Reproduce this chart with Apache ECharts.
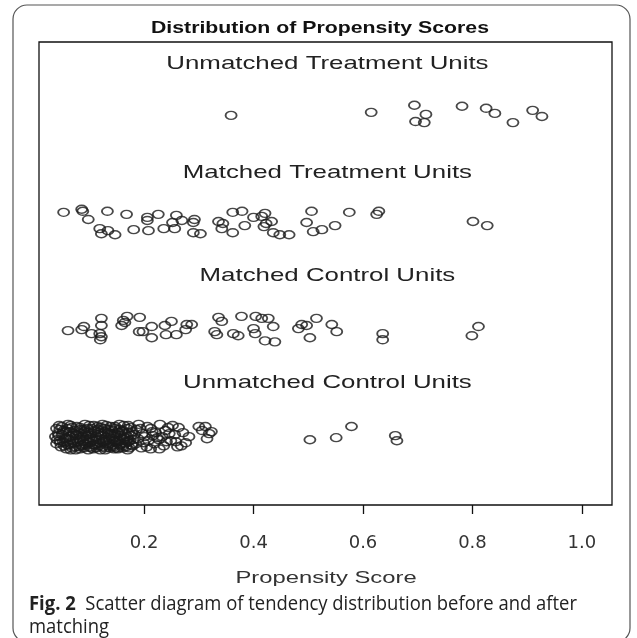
<!DOCTYPE html>
<html><head><meta charset="utf-8">
<script src="https://cdn.jsdelivr.net/npm/echarts@6/dist/echarts.min.js"></script>
<style>html,body{margin:0;padding:0;background:#fff}#c{width:637px;height:638px}</style>
</head><body><div id="c"></div>
<script>
// ---------- data ----------
const titleText = 'Distribution of Propensity Scores';
const axisTitle = 'Propensity Score';
const captionBold = 'Fig. 2';
const captionLine1 = '  Scatter diagram of tendency distribution before and after';
const captionLine2 = 'matching';
const groupLabels = ['Unmatched Treatment Units', 'Matched Treatment Units', 'Matched Control Units', 'Unmatched Control Units'];
const groupLabelLevels = [4.33, 3.26, 2.25, 1.20];
const groupLabelX = 0.535;
const xTicks = [0.2, 0.4, 0.6, 0.8, 1.0];

const unmatchedTreatment = [
  [0.359,3.82],[0.615,3.85],[0.694,3.92],[0.715,3.83],[0.696,3.76],[0.712,3.75],
  [0.781,3.91],[0.825,3.89],[0.841,3.84],[0.874,3.75],[0.910,3.87],[0.927,3.81]
];

const matchedTreatment = [
  [0.053,2.87],[0.086,2.90],[0.088,2.88],[0.098,2.80],[0.133,2.88],[0.168,2.85],
  [0.119,2.71],[0.122,2.66],[0.134,2.69],[0.147,2.65],[0.181,2.70],[0.208,2.69],
  [0.206,2.79],[0.206,2.82],[0.226,2.85],[0.236,2.71],[0.256,2.71],[0.252,2.77],
  [0.259,2.84],[0.269,2.79],[0.292,2.80],[0.290,2.77],[0.290,2.67],[0.303,2.66],
  [0.336,2.78],[0.344,2.76],[0.342,2.71],[0.362,2.67],[0.362,2.87],[0.379,2.88],
  [0.384,2.74],[0.400,2.82],[0.415,2.83],[0.421,2.86],[0.423,2.76],[0.433,2.78],
  [0.419,2.73],[0.436,2.67],[0.448,2.65],[0.465,2.65],[0.506,2.88],[0.497,2.77],
  [0.509,2.68],[0.525,2.70],[0.549,2.74],[0.575,2.87],[0.625,2.85],[0.629,2.88],
  [0.801,2.78],[0.827,2.74]
];

const matchedControl = [
  [0.061,1.71],[0.086,1.72],[0.090,1.75],[0.104,1.68],[0.122,1.83],[0.122,1.76],
  [0.119,1.68],[0.122,1.65],[0.120,1.62],[0.159,1.76],[0.162,1.81],[0.169,1.85],
  [0.165,1.79],[0.192,1.84],[0.191,1.70],[0.198,1.70],[0.214,1.75],[0.214,1.64],
  [0.238,1.76],[0.240,1.67],[0.250,1.80],[0.259,1.67],[0.276,1.72],[0.278,1.77],
  [0.287,1.77],[0.336,1.84],[0.342,1.80],[0.329,1.70],[0.333,1.67],[0.363,1.68],
  [0.372,1.66],[0.378,1.85],[0.404,1.85],[0.415,1.83],[0.427,1.83],[0.400,1.73],
  [0.403,1.68],[0.436,1.75],[0.421,1.61],[0.439,1.60],[0.482,1.73],[0.488,1.77],
  [0.497,1.76],[0.515,1.83],[0.503,1.64],[0.543,1.77],[0.552,1.70],[0.636,1.68],
  [0.636,1.62],[0.811,1.75],[0.799,1.66]
];

const unmatchedControl = [
  [0.045,0.78],[0.061,0.79],[0.077,0.77],[0.092,0.79],[0.108,0.78],[0.124,0.79],[0.139,0.77],
  [0.155,0.79],[0.171,0.78],[0.190,0.79],[0.206,0.77],[0.229,0.79],[0.252,0.78],
  [0.040,0.75],[0.053,0.73],[0.068,0.76],[0.084,0.74],[0.097,0.75],[0.109,0.73],[0.121,0.76],
  [0.134,0.74],[0.147,0.75],[0.161,0.73],[0.176,0.76],[0.186,0.74],[0.212,0.75],[0.239,0.73],[0.263,0.76],
  [0.043,0.70],[0.058,0.72],[0.071,0.70],[0.081,0.71],[0.091,0.72],[0.103,0.70],[0.116,0.71],
  [0.128,0.72],[0.139,0.70],[0.152,0.71],[0.166,0.70],[0.178,0.72],[0.197,0.70],[0.221,0.71],[0.246,0.70],[0.271,0.71],
  [0.038,0.67],[0.050,0.69],[0.064,0.67],[0.076,0.68],[0.088,0.67],[0.099,0.69],[0.112,0.67],
  [0.122,0.68],[0.135,0.69],[0.145,0.67],[0.157,0.68],[0.169,0.67],[0.182,0.69],[0.201,0.67],
  [0.216,0.68],[0.233,0.67],[0.256,0.69],
  [0.046,0.63],[0.057,0.65],[0.070,0.63],[0.083,0.64],[0.095,0.65],[0.106,0.63],[0.118,0.64],
  [0.130,0.63],[0.142,0.65],[0.151,0.63],[0.163,0.64],[0.174,0.63],[0.189,0.65],[0.208,0.63],
  [0.227,0.64],[0.249,0.63],
  [0.040,0.60],[0.055,0.61],[0.066,0.60],[0.079,0.62],[0.092,0.60],[0.101,0.61],[0.114,0.60],
  [0.126,0.62],[0.137,0.60],[0.149,0.61],[0.159,0.60],[0.171,0.62],[0.185,0.60],[0.199,0.61],
  [0.219,0.60],[0.241,0.62],[0.276,0.61],
  [0.048,0.57],[0.062,0.59],[0.074,0.57],[0.087,0.58],[0.100,0.57],[0.110,0.59],[0.124,0.57],
  [0.133,0.58],[0.144,0.57],[0.155,0.59],[0.167,0.57],[0.179,0.58],[0.205,0.57],[0.236,0.58],[0.261,0.57],
  [0.058,0.55],[0.075,0.54],[0.090,0.56],[0.107,0.55],[0.120,0.54],[0.138,0.56],[0.152,0.55],
  [0.170,0.54],[0.195,0.56],[0.228,0.55],
  [0.050,0.77],[0.066,0.78],[0.083,0.76],[0.100,0.78],[0.115,0.77],[0.131,0.78],[0.147,0.77],[0.163,0.78],
  [0.046,0.74],[0.060,0.75],[0.075,0.73],[0.090,0.74],[0.104,0.75],[0.116,0.74],[0.128,0.75],[0.141,0.73],
  [0.155,0.74],[0.169,0.75],
  [0.051,0.71],[0.064,0.72],[0.077,0.69],[0.086,0.70],[0.097,0.71],[0.110,0.72],[0.122,0.70],[0.134,0.71],
  [0.146,0.70],[0.159,0.72],[0.172,0.71],
  [0.044,0.68],[0.057,0.66],[0.070,0.68],[0.082,0.66],[0.094,0.68],[0.105,0.66],[0.117,0.69],[0.129,0.66],
  [0.140,0.68],[0.151,0.69],[0.163,0.66],[0.176,0.68],
  [0.041,0.64],[0.052,0.62],[0.064,0.64],[0.076,0.65],[0.089,0.62],[0.100,0.64],[0.112,0.65],[0.124,0.62],
  [0.136,0.64],[0.147,0.63],[0.157,0.65],[0.168,0.62],[0.180,0.64],
  [0.047,0.61],[0.060,0.59],[0.072,0.61],[0.085,0.59],[0.097,0.62],[0.108,0.59],[0.120,0.61],[0.131,0.60],
  [0.143,0.59],[0.154,0.62],[0.165,0.60],[0.177,0.59],
  [0.054,0.58],[0.068,0.56],[0.081,0.57],[0.094,0.59],[0.104,0.56],[0.117,0.58],[0.129,0.56],[0.140,0.58],
  [0.150,0.56],[0.161,0.58],[0.173,0.56],
  [0.066,0.54],[0.083,0.55],[0.098,0.54],[0.113,0.56],[0.129,0.54],[0.145,0.55],[0.161,0.56],
  [0.193,0.75],[0.215,0.72],[0.224,0.66],[0.244,0.76],[0.258,0.62],[0.282,0.67],[0.268,0.58],[0.212,0.55],
  [0.300,0.77],[0.312,0.77],[0.306,0.73],[0.319,0.70],[0.315,0.65],[0.323,0.72],
  [0.503,0.64],[0.551,0.66],[0.579,0.77],[0.659,0.68],[0.662,0.63]
];

// ---------- chart ----------
const chart = echarts.init(document.getElementById('c'));
function measure(font, text) {
  const ctx = document.createElement('canvas').getContext('2d');
  ctx.font = font; return ctx.measureText(text).width;
}
const TITLE_FONT = 'bold 17px "Liberation Sans", Arial, sans-serif';
const LABEL_FONT = '19px "Liberation Sans", Arial, sans-serif';
const AXIS_FONT = '17px "Liberation Sans", Arial, sans-serif';
const CAP_FONT = '20px "Open Sans", sans-serif';
const CAP_BOLD = 'bold 20px "Open Sans", sans-serif';
const STRETCH = 1.36;
const titleScale = 338 / measure(TITLE_FONT, titleText);
const capBoldW = measure(CAP_BOLD, captionBold);
const capScale = 548 / (capBoldW + measure(CAP_FONT, captionLine1));

const ringStyle = { color: 'rgba(0,0,0,0)', borderColor: '#1a1a1a', borderWidth: 1.6 };
function ringSeries(name, data) {
  return { name, type: 'scatter', data, symbol: 'circle', symbolSize: [11, 8],
    itemStyle: ringStyle, silent: true, emphasis: { disabled: true } };
}

const baseGraphic = [
  { id: 'frame', type: 'rect', shape: { x: 13, y: 5, width: 617, height: 637, r: 14 },
    style: { fill: 'none', stroke: '#555', lineWidth: 1.2 }, silent: true },
  { id: 'title', type: 'text', x: 320, y: 28, scaleX: titleScale,
    style: { text: titleText, font: TITLE_FONT, fill: '#111', textAlign: 'center', textVerticalAlign: 'middle' } },
  { id: 'axname', type: 'text', x: 326, y: 578, scaleX: 1.4,
    style: { text: axisTitle, font: AXIS_FONT, fill: '#333', textAlign: 'center', textVerticalAlign: 'middle' } },
  { id: 'capb', type: 'text', x: 29, y: 604, scaleX: capScale,
    style: { text: captionBold, font: CAP_BOLD, fill: '#222', textAlign: 'left', textVerticalAlign: 'middle' } },
  { id: 'cap1', type: 'text', x: 29 + capBoldW * capScale, y: 604, scaleX: capScale,
    style: { text: captionLine1, font: CAP_FONT, fill: '#222', textAlign: 'left', textVerticalAlign: 'middle' } },
  { id: 'cap2', type: 'text', x: 29, y: 627, scaleX: capScale,
    style: { text: captionLine2, font: CAP_FONT, fill: '#222', textAlign: 'left', textVerticalAlign: 'middle' } }
];

chart.setOption({
  animation: false,
  backgroundColor: '#fff',
  grid: { left: 39, right: 25, top: 42, bottom: 133, show: true, borderColor: '#111', borderWidth: 1.3 },
  xAxis: {
    type: 'value', min: 0.008, max: 1.055, offset: 3,
    axisLine: { show: false }, splitLine: { show: false },
    axisTick: { show: true, length: 9, customValues: xTicks, lineStyle: { color: '#111', width: 1.3 } },
    axisLabel: { customValues: xTicks, formatter: v => Number(v).toFixed(1), margin: 26,
      fontFamily: 'DejaVu Sans', fontSize: 18, color: '#333' }
  },
  yAxis: { type: 'value', min: 0, max: 4.54, show: false },
  series: [
    ringSeries('Unmatched Treatment Units', unmatchedTreatment),
    ringSeries('Matched Treatment Units', matchedTreatment),
    ringSeries('Matched Control Units', matchedControl),
    ringSeries('Unmatched Control Units', unmatchedControl)
  ],
  graphic: baseGraphic
});

const labelGraphic = groupLabels.map((t, i) => {
  const p = chart.convertToPixel({ gridIndex: 0 }, [groupLabelX, groupLabelLevels[i]]);
  return { id: 'gl' + i, type: 'text', x: p[0], y: p[1], scaleX: STRETCH,
    style: { text: t, font: LABEL_FONT, fill: '#222', textAlign: 'center', textVerticalAlign: 'middle' } };
});
chart.setOption({ graphic: baseGraphic.concat(labelGraphic) });
</script></body></html>
